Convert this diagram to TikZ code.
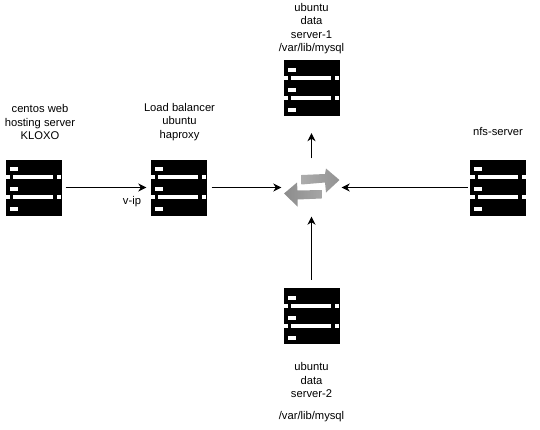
\documentclass[tikz,border=0pt]{standalone}
\usepackage{fontspec}
\setmainfont{Liberation Sans}
\usepackage{tikz}
\usetikzlibrary{arrows.meta}

\tikzset{
	server/.style={rectangle,fill=black,minimum width=56pt,minimum height=56pt,inner sep=0pt},
	caption/.style={align=center,font=\fontsize{11.2}{13.4}\selectfont,inner sep=0pt},
	link/.style={->,line width=1pt}
}

\begin{document}
\begin{tikzpicture}[x=1pt,y=-1pt,>={Stealth[length=8pt,width=8pt,inset=2.5pt]}]
	\useasboundingbox (0,0) rectangle (540,429);
	
	\node[server] (centos) at (33.5,187.5) {};
	\node[server] (balancer) at (178.5,187.5) {};
	\node[server] (data1) at (311.5,88) {};
	\node[server] (data2) at (311.5,316) {};
	\node[server] (nfs) at (498,187.5) {};
	
	% white slots of the server icons
	\foreach \n in {centos,balancer,data1,data2,nfs} {
		\begin{scope}[shift={(\n.north west)}]
			\foreach \b in {8,28,48} \fill[white] (4.5,\b) rectangle (12.5,\b+4);
			\foreach \b in {16,36} {
				\fill[white] (0,\b) rectangle (5,\b+4);
				\fill[white] (8,\b) rectangle (48,\b+4);
				\fill[white] (52,\b) rectangle (56,\b+4);
			}
		\end{scope}
	}
	
	\node[minimum width=60pt,minimum height=58pt,inner sep=0pt] (switch) at (311.5,187.5) {};
	
	% gray arrows in the middle
	\shade[left color=gray!65,right color=gray!85] (301.5,175) -- (325,174) -- (326,168.5) -- (339.5,180) -- (326,192.5) -- (325,182.5) -- (301.5,184.5) -- cycle;
	\shade[left color=gray!90,right color=gray!70] (284,193.5) -- (297,182.5) -- (297.5,190.5) -- (321.5,190) -- (321.5,198.5) -- (297.5,199.5) -- (297.5,206.5) -- cycle;
	
	\draw[link,shorten <=4pt,shorten >=4pt] (centos) -- (balancer);
	\draw[link,shorten <=5pt] (balancer) -- (switch);
	\draw[link,shorten >=17pt] (switch) -- (data1);
	\draw[link,shorten <=8pt] (data2) -- (switch);
	\draw[link,shorten <=2pt] (nfs) -- (switch);
	
	\node[caption] (centostext) at (40,122) {centos web\\hosting server\\KLOXO};
	\node[caption] (balancertext) at (179.5,122) {Load balancer\\ubuntu\\haproxy};
	\node[caption] (data1text) at (311.5,28.5) {ubuntu\\data\\server-1\\/var/lib/mysql};
	\node[caption] (data2text) at (311.5,392) {ubuntu\\data\\server-2\\[8pt]/var/lib/mysql};
	\node[caption] (nfstext) at (498,131) {nfs-server};
	\node[caption] (vip) at (132,202) {v-ip};
\end{tikzpicture}
\end{document}
